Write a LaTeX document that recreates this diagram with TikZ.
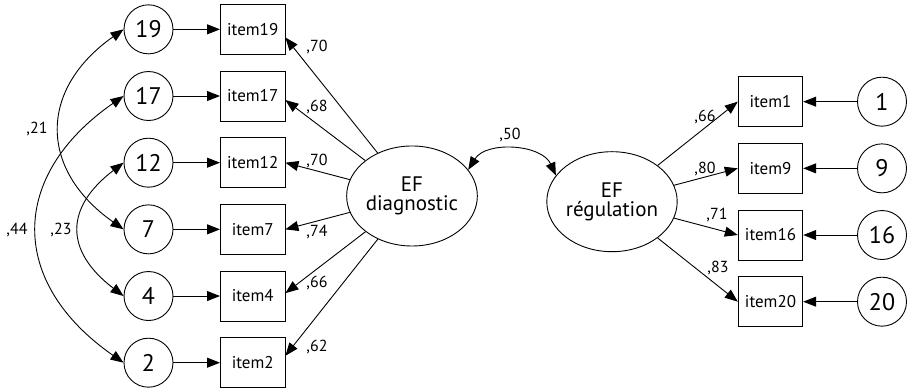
\documentclass[tikz,border=0pt]{standalone}
\usepackage{fontspec}
\setmainfont{PT Sans}
\usetikzlibrary{shapes.geometric,arrows.meta}
\newcommand{\h}{66.67}

\begin{document}
\begin{tikzpicture}[x=1pt,y=1pt,line width=0.9pt,
    rect/.style={draw, rectangle, minimum width=64.5, minimum height=50, inner sep=0pt, font=\fontsize{17}{17}\selectfont},
    circ/.style={draw, circle, minimum size=49, inner sep=0pt, font=\fontsize{24}{24}\selectfont},
    latent/.style={draw, ellipse, minimum width=130, minimum height=100, inner sep=0pt, align=center, font=\fontsize{21}{19.5}\selectfont},
    lbl/.style={font=\fontsize{16}{16}\selectfont, inner sep=0pt},
    arr/.style={-{Triangle[length=13pt,width=10pt]}},
    cov/.style={{Triangle[length=13pt,width=10pt]}-{Triangle[length=13pt,width=10pt]}}]
    \useasboundingbox (0,0) rectangle (910,390);

    % Left factor
    \node[latent] (diag) at (412,194) {EF\\diagnostic};

    \node[circ] (c19) at (148.5,27.3+5*\h) {19};
    \node[circ] (c17) at (148.5,27.3+4*\h) {17};
    \node[circ] (c12) at (148.5,27.3+3*\h) {12};
    \node[circ] (c7)  at (148.5,27.3+2*\h) {7};
    \node[circ] (c4)  at (148.5,27.3+1*\h) {4};
    \node[circ] (c2)  at (148.5,27.3+0*\h) {2};

    \node[rect] (item19) at (252.7,27.3+5*\h) {item19};
    \node[rect] (item17) at (252.7,27.3+4*\h) {item17};
    \node[rect] (item12) at (252.7,27.3+3*\h) {item12};
    \node[rect] (item7)  at (252.7,27.3+2*\h) {item7};
    \node[rect] (item4)  at (252.7,27.3+1*\h) {item4};
    \node[rect] (item2)  at (252.7,27.3+0*\h) {item2};

    \draw[arr] (c19) -- (item19);
    \draw[arr] (c17) -- (item17);
    \draw[arr] (c12) -- (item12);
    \draw[arr] (c7) -- (item7);
    \draw[arr] (c4) -- (item4);
    \draw[arr] (c2) -- (item2);

    \draw[arr] (diag) -- (item19.-14);
    \draw[arr] (diag) -- (item17.-7);
    \draw[arr] (diag) -- (item12.east);
    \draw[arr] (diag) -- (item7.east);
    \draw[arr] (diag) -- (item4.5);
    \draw[arr] (diag) -- (item2.12);

    \node[lbl] (l19) at (317,343) {,70};
    \node[lbl] (l17) at (317,283) {,68};
    \node[lbl] (l12) at (317,229) {,70};
    \node[lbl] (l7)  at (317,158) {,74};
    \node[lbl] (l4)  at (317,107) {,66};
    \node[lbl] (l2)  at (317,43)  {,62};

    % Correlated errors
    \draw[cov] (c19.west) .. controls +(-85,-60) and +(-85,60) .. (c7.west);
    \draw[cov] (c17.west) .. controls +(-115,-80) and +(-115,80) .. (c2.west);
    \draw[cov] (c12.west) .. controls +(-59,-45) and +(-59,45) .. (c4.west);
    \node[lbl] (r21) at (37,261) {,21};
    \node[lbl] (r44) at (17,160) {,44};
    \node[lbl] (r23) at (61,160) {,23};

    % Right factor
    \node[latent] (reg) at (612,188.3) {EF\\régulation};

    \node[rect] (item1)  at (770.5,88.3+3*\h) {item1};
    \node[rect] (item9)  at (770.5,88.3+2*\h) {item9};
    \node[rect] (item16) at (770.5,88.3+1*\h) {item16};
    \node[rect] (item20) at (770.5,88.3+0*\h) {item20};

    \node[circ] (c1)  at (882,88.3+3*\h) {1};
    \node[circ] (c9)  at (882,88.3+2*\h) {9};
    \node[circ] (c16) at (882,88.3+1*\h) {16};
    \node[circ] (c20) at (882,88.3+0*\h) {20};

    \draw[arr] (c1) -- (item1);
    \draw[arr] (c9) -- (item9);
    \draw[arr] (c16) -- (item16);
    \draw[arr] (c20) -- (item20);

    \draw[arr] (reg) -- (item1.west);
    \draw[arr] (reg) -- (item9.west);
    \draw[arr] (reg) -- (item16.west);
    \draw[arr] (reg) -- (item20.west);

    \node[lbl] (l1)  at (705,273) {,66};
    \node[lbl] (l9)  at (705,221) {,80};
    \node[lbl] (l16) at (717,175) {,71};
    \node[lbl] (l20) at (718,122) {,83};

    % Factor correlation
    \draw[cov] (diag.25) to[bend left=62] (reg.155);
    \node[lbl] (r50) at (510,255) {,50};
\end{tikzpicture}
\end{document}
